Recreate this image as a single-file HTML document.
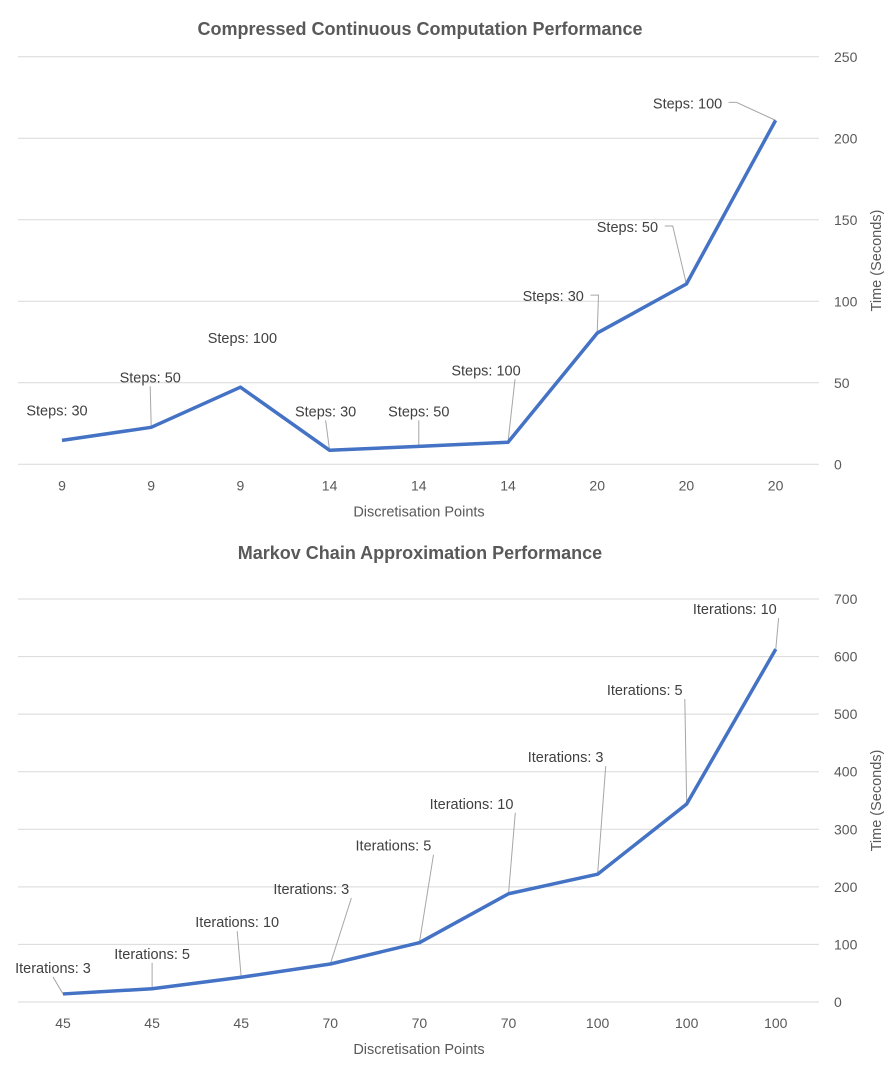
<!DOCTYPE html>
<html><head><meta charset="utf-8"><style>
body{margin:0;background:#fff;}
svg text{font-family:"Liberation Sans",sans-serif;}
</style></head><body>
<svg id="svg" width="894" height="1078" xmlns="http://www.w3.org/2000/svg"></svg>
<script>
const cats1 = ["9","9","9","14","14","14","20","20","20"];
const vals1 = [14.7,22.7,47.3,8.6,11,13.5,80.5,110.6,211];
const ann1 = ["Steps: 30","Steps: 50","Steps: 100","Steps: 30","Steps: 50","Steps: 100","Steps: 30","Steps: 50","Steps: 100"];
const ticks1 = [0,50,100,150,200,250];
const cats2 = ["45","45","45","70","70","70","100","100","100"];
const vals2 = [14,23,43,66,103,188,222,344,613];
const ann2 = ["Iterations: 3","Iterations: 5","Iterations: 10","Iterations: 3","Iterations: 5","Iterations: 10","Iterations: 3","Iterations: 5","Iterations: 10"];
const ticks2 = [0,100,200,300,400,500,600,700];

const NS="http://www.w3.org/2000/svg";
const svg=document.getElementById('svg');
function mk(tag,attrs,parent){const e=document.createElementNS(NS,tag);for(const k in attrs)e.setAttribute(k,attrs[k]);(parent||svg).appendChild(e);return e;}

const lab1=[[-5,-30,0],[-1,-50,1],[2,-49,0],[-4,-39,1],[0,-35,1],[-22,-72,1],[-44,-37,2],[-59,-57,2],[-88,-17,2]];
const lab2=[[-10,-26,1],[0,-35,1],[-4,-55,1],[-19,-75,1],[-26,-97,1],[-37,-90,1],[-32,-117,1],[-42,-114,1],[-41,-40,1]];

function chart(o){
  const g=mk('g',{});
  
  
  const x=i=>o.x0+i*o.step;
  const y=v=>o.yb-(v/o.max)*(o.yb-o.yt);
  const t=mk('text',{x:420,y:o.ty,'text-anchor':'middle','font-size':18,'font-weight':'bold',fill:'#595959'},g);
  t.textContent=o.title;
  
  
  o.ticks.forEach(tv=>{
    const l=mk('line',{x1:18,x2:819,y1:y(tv),y2:y(tv),stroke:'#d9d9d9','stroke-width':1},g);
    
    
    const tt=mk('text',{x:834,y:y(tv)+5,'font-size':14,fill:'#595959'},g);
    tt.textContent=tv;
    
    
  });
  o.cats.forEach((c,i)=>{
    const tt=mk('text',{x:x(i),y:o.yb+26,'text-anchor':'middle','font-size':14,fill:'#595959'},g);
    tt.textContent=c;
    
    
  });
  const xt=mk('text',{x:419,y:o.yb+52,'text-anchor':'middle','font-size':14.5,fill:'#595959'},g);
  xt.textContent='Discretisation Points';
  
  
  const cy=(o.yt+o.yb)/2;
  const yt=mk('text',{x:0,y:0,'text-anchor':'middle','font-size':14.5,fill:'#595959',transform:`translate(881,${cy}) rotate(-90)`},g);
  yt.textContent='Time (Seconds)';
  
  
  o.vals.forEach((v,i)=>{
    const px=x(i),py=y(v),[dx,dy,ld]=o.lab[i];
    const lx=px+dx,ly=py+dy;
    const w=o.ann[i].length*7.4;
    if(ld===1){
      const l=mk('polyline',{points:`${lx+ (dx<-10?w/2-8:0)},${ly+9} ${px},${py}`,fill:'none',stroke:'#a6a6a6','stroke-width':1},g);
      
      
    } else if(ld===2){
      const l=mk('polyline',{points:`${lx+w/2+4},${ly-1} ${lx+w/2+12},${ly-1} ${px},${py}`,fill:'none',stroke:'#a6a6a6','stroke-width':1},g);
      
      
    }
    const tt=mk('text',{x:lx,y:ly+5,'text-anchor':'middle','font-size':14.5,fill:'#404040'},g);
    tt.textContent=o.ann[i];
    
    
  });
  const pl=mk('polyline',{points:o.vals.map((v,i)=>x(i)+','+y(v)).join(' '),fill:'none',stroke:'#4472c4','stroke-width':3.5,'stroke-linejoin':'round'},g);
  
  
}
chart({name:'compressed-continuous-chart',title:'Compressed Continuous Computation Performance',ty:35,x0:62,step:89.2,yt:56.8,yb:464.3,max:250,ticks:ticks1,cats:cats1,vals:vals1,ann:ann1,lab:lab1});
chart({name:'markov-chain-chart',title:'Markov Chain Approximation Performance',ty:559,x0:63,step:89.1,yt:599,yb:1002,max:700,ticks:ticks2,cats:cats2,vals:vals2,ann:ann2,lab:lab2});
</script>
</body></html>
